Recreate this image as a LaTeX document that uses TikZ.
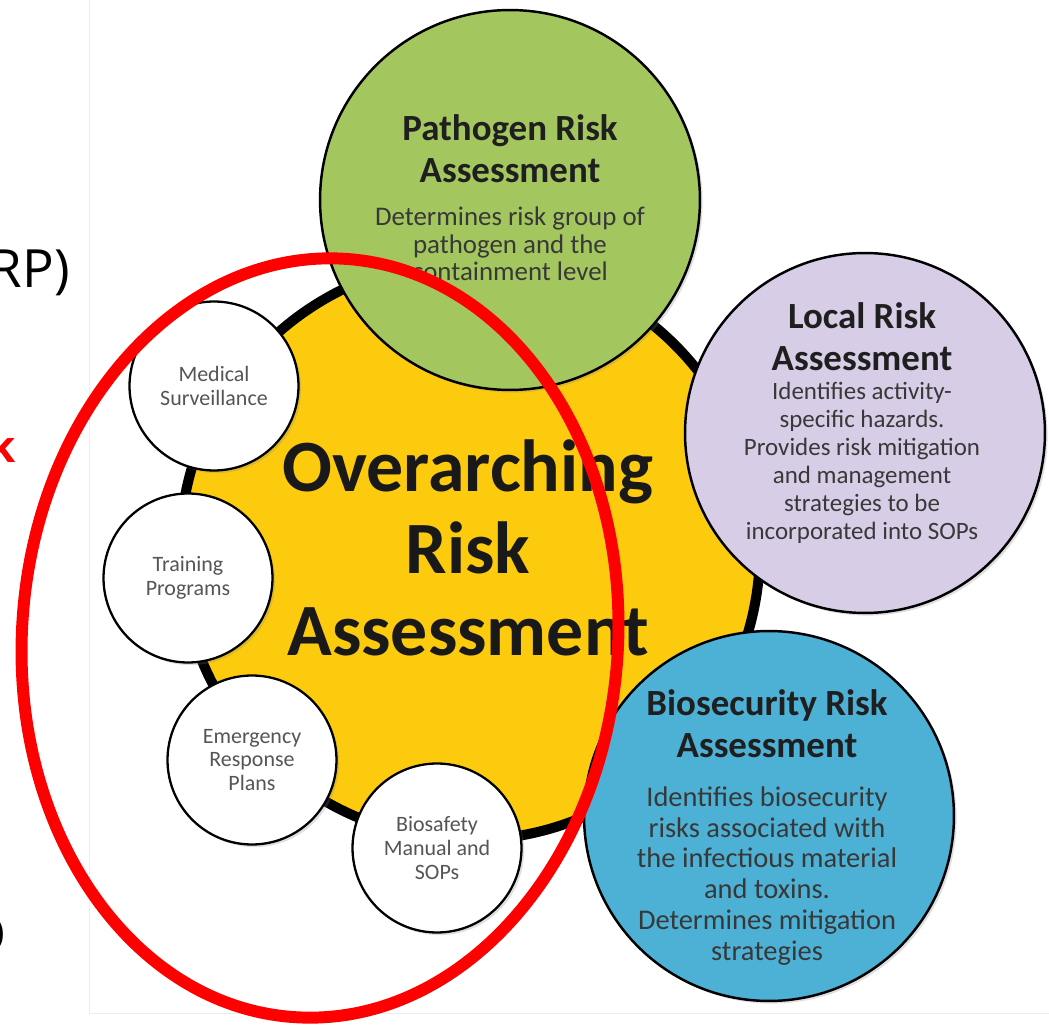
\documentclass[tikz,border=0pt]{standalone}
\usepackage{fontspec}
\setmainfont{Carlito}
\newfontfamily\slidefont{Open Sans}
\usepackage{tikz}
\usetikzlibrary{positioning,shadows}
\definecolor{ringyellow}{HTML}{FDCB0E}
\definecolor{pathgreen}{HTML}{A4C65F}
\definecolor{locallilac}{HTML}{D8CDE6}
\definecolor{bioblue}{HTML}{4DB1D5}
\definecolor{greytext}{HTML}{555555}
\tikzstyle{bigcircle} = [circle, draw=black, line width=1.4pt, inner sep=0pt,
                drop shadow={opacity=0.25, shadow xshift=1.5pt, shadow yshift=-1.5pt}]
\tikzstyle{smallcircle} = [circle, draw=black, line width=1.3pt, fill=white,
                minimum size=3.38cm, inner sep=0pt, align=center, text=greytext,
                font=\fontsize{12.5}{13.6}\selectfont,
                drop shadow={opacity=0.25, shadow xshift=1.5pt, shadow yshift=-1.5pt}]
\tikzstyle{title} = [align=center, text=black!88, font=\bfseries\fontsize{21}{23.8}\selectfont]
\tikzstyle{desc} = [align=center, text=black!78]
\tikzstyle{redline} = [draw=red, line width=6.8pt]

\begin{document}
\begin{tikzpicture}[x=0.02cm, y=-0.02cm]
            \useasboundingbox (0,0) rectangle (1049,1030);
            \clip (0,0) rectangle (1049,1030);
            % slide text cut off at the left edge
            \node[anchor=base east, font=\slidefont\fontsize{30}{36}\selectfont](slidea) at (76,288){RP)};
            \node[anchor=base east, text=red, font=\slidefont\bfseries\fontsize{25}{30}\selectfont](slideb) at (22,463){k};
            \node[anchor=base east, font=\slidefont\fontsize{30}{36}\selectfont](slidec) at (13,953){O};
            \draw[black!7] (89,0) -- (89,1013) -- (1049,1013);
            % yellow circle and the small ones round it
            \node[bigcircle, fill=ringyellow, line width=5.7pt, minimum size=11.6cm](overall) at (470,550){};
            \node[smallcircle](medical) at (214,386){Medical\\Surveillance};
            \node[smallcircle](training) at (188,578){Training\\Programs};
            \node[smallcircle](emergency) at (252,760){Emergency\\Response\\Plans};
            \node[smallcircle](biosafety) at (437,848){Biosafety\\Manual and\\SOPs};
            \node[align=center, text=black!90, font=\bfseries\fontsize{42}{46.5}\selectfont](overtext) at (468,548){Overarching\\Risk\\Assessment};
            % the three big assessments
            \node[bigcircle, fill=pathgreen, minimum size=7.6cm](pathogen) at (510,200){};
            \node[title](pathtitle) at (510,149){Pathogen Risk\\Assessment};
            \node[desc, font=\fontsize{15.3}{15.6}\selectfont](pathdesc) at (510,244){Determines risk group of\\pathogen and the\\containment level};
            \node[bigcircle, fill=locallilac, minimum size=7.2cm](local) at (865,433){};
            \node[title](localtitle) at (862,337){Local Risk\\Assessment};
            \node[desc, font=\fontsize{14.2}{15.9}\selectfont](localdesc) at (862,463){Identifies activity-\\specific hazards.\\Provides risk mitigation\\and management\\strategies to be\\incorporated into SOPs};
            \node[bigcircle, fill=bioblue, minimum size=7.4cm](biosec) at (769,816){};
            \node[title](biotitle) at (767,724){Biosecurity Risk\\Assessment};
            \node[desc, font=\fontsize{16.2}{17.6}\selectfont](biodesc) at (767,876){Identifies biosecurity\\risks associated with\\the infectious material\\and toxins.\\Determines mitigation\\strategies};
            % red ring over the left side
            \draw[redline, rotate around={-4:(320,638)}] (320,638) ellipse [x radius=298, y radius=380];
        \end{tikzpicture}
\end{document}
